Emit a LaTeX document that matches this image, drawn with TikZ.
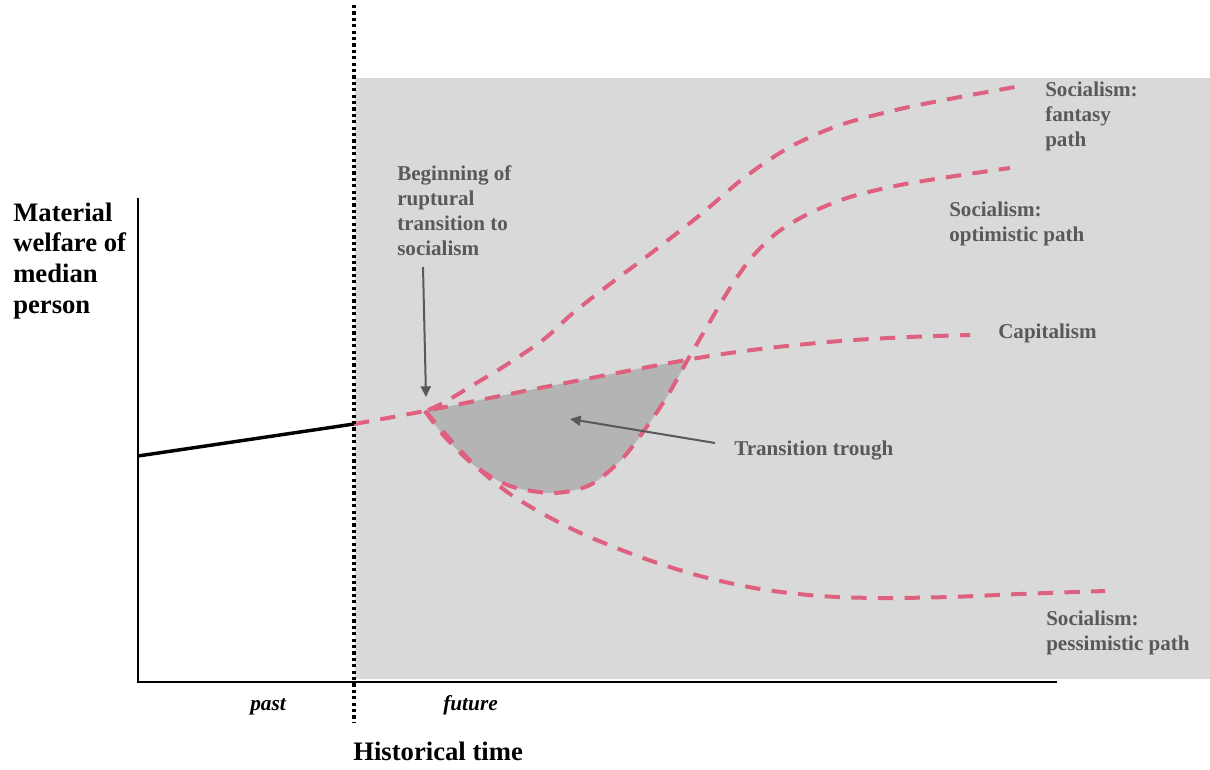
\documentclass[tikz,border=0pt]{standalone}
\usepackage{fontspec}
\setmainfont{Liberation Serif}
\usetikzlibrary{arrows.meta}
\definecolor{pathpink}{HTML}{DE6180}
\definecolor{labelgray}{HTML}{595959}
\definecolor{futurebg}{HTML}{D9D9D9}
\definecolor{troughgray}{HTML}{B4B4B4}
\begin{document}
\begin{tikzpicture}[x=0.75pt,y=-0.75pt,
  pathline/.style={draw=pathpink, line width=3pt, dash pattern=on 11.5pt off 8.5pt},
  lbl/.style={text=labelgray, font=\fontsize{15.8}{18.75}\selectfont\bfseries, align=left, anchor=base west, inner sep=0pt},
  biglbl/.style={text=black, font=\fontsize{20}{22.9}\selectfont\bfseries, align=left, anchor=base west, inner sep=0pt},
  timelbl/.style={text=black, font=\fontsize{16}{19}\selectfont\bfseries\itshape, anchor=base west, inner sep=0pt},
  pointer/.style={draw=labelgray, line width=1.5pt, -{Triangle[length=8pt,width=7.5pt]}},
  axisline/.style={draw=black, line width=1.5pt}
]
\useasboundingbox (0,0) rectangle (1210,770);
\def\cappts{(354,424) (425,411) (550,386) (686,360) (760,349) (840,341) (910,337) (970,335)}
\def\optpts{(425,411) (445,437) (475,466) (510,486) (553,493) (590,485) (622,459) (648,425) (668,395) (687,361) (708,325) (730,288) (752,257) (778,232) (810,213) (850,197) (900,185) (955,176) (1010,168)}
% future background
\fill[futurebg] (355,78) rectangle (1210,679);
% transition trough
\begin{scope}
  \clip plot[smooth] coordinates {\cappts} -- (970,700) -- (354,700) -- cycle;
  \fill[troughgray] plot[smooth] coordinates {\optpts} -- (1010,0) -- (425,0) -- cycle;
\end{scope}
% paths
\draw[pathline] plot[smooth] coordinates {\cappts};
\draw[pathline] plot[smooth] coordinates {(428,410) (445,402) (473,385) (503,367) (543,340) (573,313) (610,284) (650,254) (700,215) (745,177) (790,147) (840,125) (900,109) (960,97) (1015,87)};
\draw[pathline] plot[smooth] coordinates {\optpts};
\draw[pathline] plot[smooth] coordinates {(425,411) (440,428) (458,448) (480,470) (510,494) (545,515) (585,535) (640,557) (700,576) (760,589) (820,596) (880,598) (950,597) (1020,594) (1105,591)};
% axes
\coordinate (origin) at (138,682);
\coordinate (ytop) at (138,198);
\coordinate (xend) at (1057,682);
\coordinate (pastStart) at (138,456);
\coordinate (now) at (354,424);
\coordinate (divTop) at (354,5);
\coordinate (divBot) at (354,722);
\draw[axisline] (ytop) -- (origin) -- (xend);
\draw[black, line width=2.6pt] (pastStart) -- (now);
\draw[black, line width=3pt, dash pattern=on 2.4pt off 2.4pt] (divTop) -- (divBot);
% labels (base anchor = baseline of last line)
\node[lbl] (fantasy) at (1045,147) {Socialism:\\fantasy\\path};
\node[lbl] (optimistic) at (949,242) {Socialism:\\optimistic path};
\node[lbl] (capitalism) at (998,338) {Capitalism};
\node[lbl] (pessimistic) at (1046,650) {Socialism:\\pessimistic path};
\node[lbl] (trough) at (734,455) {Transition trough};
\node[lbl] (beginning) at (397,255) {Beginning of\\ruptural\\transition to\\socialism};
\node[biglbl] (ylabel) at (13,313) {Material\\welfare of\\median\\person};
\node[timelbl] (past) at (250,710) {past};
\node[timelbl] (future) at (443,710) {future};
\node[biglbl] (xlabel) at (353,760) {Historical time};
% pointers
\coordinate (beginTip) at (426,397);
\coordinate (troughTip) at (570,419);
\draw[pointer] (423,267) -- (beginTip);
\draw[pointer] (715,443) -- (troughTip);
\end{tikzpicture}
\end{document}
